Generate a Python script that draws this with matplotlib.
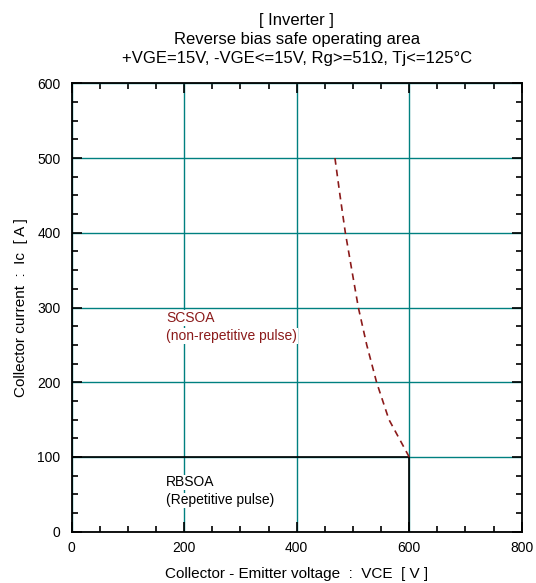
import matplotlib
matplotlib.use("Agg")
import matplotlib.pyplot as plt
from matplotlib.ticker import MultipleLocator

plt.rcParams['font.family'] = ['Liberation Sans', 'DejaVu Sans']

# RBSOA boundary
rb_v = [0, 600, 600]
rb_i = [100, 100, 0]

# SCSOA curve
sc_v = [468, 477, 486.5, 498, 509.6, 524.5, 542, 564, 600]
sc_i = [500, 450, 400, 350, 300, 250, 200, 150, 100]

xticks = [0, 200, 400, 600, 800]
yticks = [0, 100, 200, 300, 400, 500, 600]

teal = '#008080'
red = '#8B1A1A'

fig = plt.figure(figsize=(5.36, 5.83), dpi=100)
ax = fig.add_axes([0.1338, 0.088, 0.9733 - 0.1338, 0.857 - 0.088])

ax.set_xlim(0, 800)
ax.set_ylim(0, 600)
ax.set_xticks(xticks)
ax.set_yticks(yticks)
ax.xaxis.set_minor_locator(MultipleLocator(50))
ax.yaxis.set_minor_locator(MultipleLocator(25))
ax.grid(True, which='major', color=teal, linewidth=1.0)
ax.set_axisbelow(True)

ax.tick_params(which='both', direction='in', top=True, right=True, width=1.2,
               labelsize=10, colors='black')
ax.tick_params(axis='x', pad=7)
ax.tick_params(axis='y', pad=8)
ax.tick_params(which='major', length=7)
ax.tick_params(which='minor', length=4)
for s in ax.spines.values():
    s.set_linewidth(1.3)

ax.plot(rb_v, rb_i, color='black', linewidth=1.2, zorder=3)
ax.plot(sc_v, sc_i, color=red, linewidth=1.2, linestyle=(0, (4, 3)), zorder=3)

bb = dict(facecolor='white', edgecolor='none', pad=0.5)
ax.text(168, 286, 'SCSOA', color=red, fontsize=10, va='center', ha='left', bbox=bb)
ax.text(168, 262, '(non-repetitive pulse)', color=red, fontsize=10, va='center', ha='left', bbox=bb)
ax.text(168, 66, 'RBSOA', color='black', fontsize=10, va='center', ha='left', bbox=bb)
ax.text(168, 42, '(Repetitive pulse)', color='black', fontsize=10, va='center', ha='left', bbox=bb)

ax.set_title('[ Inverter ]\nReverse bias safe operating area\n'
             '+VGE=15V, -VGE<=15V, Rg>=51Ω, Tj<=125°C',
             fontsize=12, pad=14.5, linespacing=1.35)
ax.set_xlabel('Collector - Emitter voltage  :  VCE  [ V ]', fontsize=11, labelpad=8)
ax.set_ylabel('Collector current  :  Ic  [ A ]', fontsize=11, labelpad=7)

fig.savefig('out.png', dpi=100)
